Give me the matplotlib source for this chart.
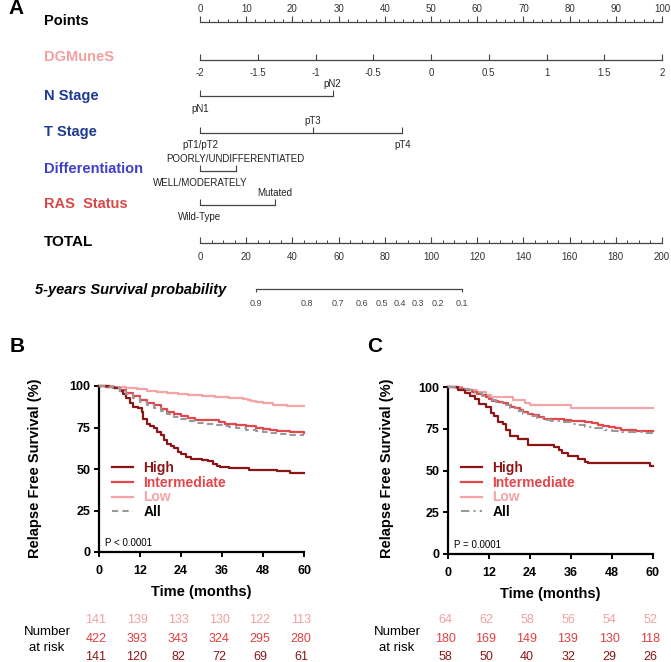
import matplotlib
matplotlib.use("Agg")
import matplotlib.pyplot as plt
import matplotlib.transforms as mtransforms
from matplotlib.lines import Line2D
from matplotlib.ticker import MultipleLocator

plt.rcParams['font.family'] = ['Liberation Sans', 'DejaVu Sans']

# ---------------- data ----------------
# Nomogram
points_range = (0, 100)
dgmunes_range = (-2, 2)
dgmunes_ticks = [-2, -1.5, -1, -0.5, 0, 0.5, 1, 1.5, 2]
total_range = (0, 200)
n_stage_labels = ['pN1', 'pN2']
n_stage_pts = [0, 28.7]
t_stage_labels = ['pT1/pT2', 'pT3', 'pT4']
t_stage_pts = [0, 24.4, 43.8]
diff_labels = ['WELL/MODERATELY', 'POORLY/UNDIFFERENTIATED']
diff_pts = [0, 7.7]
ras_labels = ['Wild-Type', 'Mutated']
ras_pts = [0, 16.2]
surv_probs = [0.9, 0.8, 0.7, 0.6, 0.5, 0.4, 0.3, 0.2, 0.1]
surv_total_pts = [24.2, 46.3, 59.5, 70.0, 78.8, 86.6, 94.4, 103.0, 113.3]

# Panel B (KM)
b_high_t = [0, 3, 4.5, 6, 7, 8, 9, 10, 11.5, 12.5, 13, 14, 15, 16, 17, 18, 19, 20, 21, 22, 23, 24,
            25.5, 27, 30, 32, 33.5, 34.5, 35.5, 38, 42, 44, 50, 52, 56, 60]
b_high_s = [100, 99.3, 98.6, 97.2, 95.0, 93.0, 90.0, 87.2, 86.5, 84.4, 80.1, 77.3, 75.9, 74.5, 72.3,
            70.2, 67.4, 65.2, 63.8, 62.4, 60.3, 58.9, 57.4, 56.0, 55.3, 54.6, 53.2, 51.8, 51.1, 50.9,
            50.4, 49.6, 49.4, 48.6, 47.8, 47.8]
b_int_t = [0, 2, 4, 6, 8, 10, 12, 14, 16, 18, 20, 22, 24, 26, 28, 33, 35, 37, 40, 43, 46, 48, 50,
           52, 56, 60]
b_int_s = [100, 99.5, 98.8, 97.5, 95.8, 93.8, 91.5, 89.8, 88.3, 86.2, 84.6, 83.2, 82.2, 80.8, 79.8,
           79.6, 78.5, 77.3, 76.5, 75.8, 75.0, 74.0, 73.2, 72.6, 72.2, 71.9]
b_low_t = [0, 4, 8, 11, 14, 17, 20, 23, 26, 30, 34, 38, 42, 43.5, 44.5, 46, 48, 51, 55, 60]
b_low_s = [100, 99.3, 98.6, 97.9, 97.2, 96.5, 95.8, 95.1, 94.4, 93.7, 93.3, 93.0, 92.3, 91.6, 90.9,
           90.2, 89.5, 88.8, 88.1, 88.1]
b_all_t = [0, 2, 4, 6, 8, 10, 12, 14, 16, 18, 20, 22, 24, 26, 28, 31, 34, 36, 38, 40, 43, 46, 48,
           50, 53, 56, 60]
b_all_s = [100, 99.4, 98.6, 97.2, 95.2, 92.8, 90.5, 88.5, 86.8, 84.8, 83.0, 81.6, 80.4, 79.0, 77.8,
           77.4, 76.6, 76.0, 75.2, 74.4, 73.6, 72.8, 72.0, 71.4, 71.0, 70.6, 70.4]

# Panel C (KM)
c_high_t = [0, 3, 5, 6.5, 8, 9, 11, 12.5, 13.5, 14.5, 16, 17, 18, 20.5, 23.5, 31, 32.5, 33.5, 35,
            38, 40, 41, 59, 60]
c_high_s = [100, 98.3, 96.6, 94.8, 93.1, 89.7, 87.9, 84.5, 82.8, 79.3, 77.6, 74.1, 70.7, 69.0, 65.5,
            63.8, 62.1, 60.3, 58.6, 56.9, 55.2, 54.5, 52.4, 52.4]
c_int_t = [0, 2.5, 4, 5.5, 7, 8.5, 10, 11, 12, 13, 14.5, 16, 17.5, 18.5, 19.5, 21, 22, 23.5, 25,
           26.5, 28, 34, 36, 40, 42, 44, 45.5, 47, 49, 50.5, 55, 60]
c_int_s = [100, 99.4, 98.9, 98.3, 97.2, 96.1, 95.0, 93.9, 92.8, 91.7, 91.1, 90.5, 89.4, 88.3, 87.2,
           86.1, 85.0, 83.9, 83.3, 82.2, 81.1, 80.5, 79.4, 78.8, 78.2, 77.1, 76.5, 75.9, 75.3, 74.4,
           73.8, 73.8]
c_low_t = [0, 4, 8.5, 11, 12.5, 19, 22.5, 24, 36, 60]
c_low_s = [100, 98.4, 96.9, 95.3, 93.8, 92.2, 90.6, 89.1, 87.5, 87.5]
c_all_t = [0, 2, 4, 6, 8, 10, 12, 14, 16, 18, 20, 22, 24, 26, 28, 30, 33, 36, 38, 40, 43, 46, 48,
           51, 54, 57, 60]
c_all_s = [100, 99.6, 99.0, 98.0, 96.6, 94.8, 92.5, 90.8, 89.3, 87.5, 85.8, 84.0, 82.5, 81.2, 80.3,
           79.8, 79.0, 77.8, 77.0, 76.2, 75.2, 74.4, 73.7, 73.3, 73.0, 72.7, 72.5]

risk_times = [0, 12, 24, 36, 48, 60]
b_risk_low = [141, 139, 133, 130, 122, 113]
b_risk_int = [422, 393, 343, 324, 295, 280]
b_risk_high = [141, 120, 82, 72, 69, 61]
c_risk_low = [64, 62, 58, 56, 54, 52]
c_risk_int = [180, 169, 149, 139, 130, 118]
c_risk_high = [58, 50, 40, 32, 29, 26]

group_labels = ['High', 'Intermediate', 'Low', 'All']

# ---------------- style ----------------
W, H = 671, 662
C_HIGH = '#8c1515'
C_INT = '#e2474c'
C_LOW = '#f4a4a4'
C_ALL = '#999999'
AXC = '#444444'

fig = plt.figure(figsize=(W / 100, H / 100), dpi=100)


def fx(px):
    return px / W


def fy(py):
    return 1 - py / H


X0, X1 = 200, 662  # nomogram scale extent in px
EPS = 1e-4


def row_axes(line_y, xlim, top=False):
    if top:
        ax = fig.add_axes([fx(X0), fy(line_y) - EPS, fx(X1) - fx(X0), EPS])
    else:
        ax = fig.add_axes([fx(X0), fy(line_y), fx(X1) - fx(X0), EPS])
    ax.set_xlim(*xlim)
    ax.set_ylim(0, 1)
    ax.patch.set_visible(False)
    for s in ax.spines.values():
        s.set_visible(False)
    ax.set_yticks([])
    sp = ax.spines['top' if top else 'bottom']
    sp.set_visible(True)
    sp.set_color(AXC)
    sp.set_linewidth(0.9)
    return ax


# Row labels
row_label_specs = [
    ('Points', 21, 'black', 10.5),
    ('DGMuneS', 57, '#f3a0a0', 10.5),
    ('N Stage', 96, '#1f3b8f', 10.5),
    ('T Stage', 132, '#1f3b8f', 10.5),
    ('Differentiation', 169, '#3f3fc8', 10.5),
    ('RAS  Status', 204, '#d84848', 10.5),
    ('TOTAL', 242, 'black', 11),
]
for txt, y, col, fs in row_label_specs:
    fig.text(fx(44), fy(y), txt, color=col, fontsize=fs, fontweight='bold',
             ha='left', va='center')
fig.text(fx(35), fy(290), '5-years Survival probability', fontsize=10.5, fontweight='bold',
         style='italic', ha='left', va='center')
fig.text(fx(8), fy(9), 'A', fontsize=15, fontweight='bold', ha='left', va='center')

# Points
ax = row_axes(21.5, points_range, top=True)
ax.xaxis.set_ticks_position('top')
ax.xaxis.set_major_locator(MultipleLocator(10))
ax.xaxis.set_minor_locator(MultipleLocator(2))
ax.tick_params(axis='x', which='major', direction='out', length=4, width=0.8, color=AXC,
               labelsize=7, labelcolor='#333333', pad=1.5, top=True, bottom=False,
               labeltop=True, labelbottom=False)
ax.tick_params(axis='x', which='minor', direction='out', length=2, width=0.7, color=AXC,
               top=True, bottom=False)

# DGMuneS
ax = row_axes(60, dgmunes_range)
ax.set_xticks(dgmunes_ticks)
ax.set_xticklabels([f'{v:g}' for v in dgmunes_ticks])
ax.tick_params(axis='x', direction='in', length=4, width=0.8, color=AXC, labelsize=7,
               labelcolor='#333333', pad=6)

# Categorical rows
cat_rows = [
    (96, n_stage_pts, n_stage_labels),
    (132.5, t_stage_pts, t_stage_labels),
    (171, diff_pts, diff_labels),
    (205, ras_pts, ras_labels),
]
for line_y, pts, labs in cat_rows:
    ax = row_axes(line_y, points_range)
    ax.spines['bottom'].set_bounds(min(pts), max(pts))
    ax.set_xticks(pts)
    ax.set_xticklabels([])
    ax.tick_params(axis='x', direction='in', length=4, width=0.8, color=AXC)
    for i, (p, lab) in enumerate(zip(pts, labs)):
        above = (i % 2 == 1)
        ax.annotate(lab, xy=(p, 0), xycoords=('data', 'axes fraction'),
                    xytext=(0, 8.5 if above else -9), textcoords='offset points',
                    ha='center', va='center', fontsize=7, color='#222222')

# TOTAL
ax = row_axes(243, total_range)
ax.xaxis.set_major_locator(MultipleLocator(20))
ax.xaxis.set_minor_locator(MultipleLocator(5))
ax.tick_params(axis='x', which='major', direction='in', length=4, width=0.8, color=AXC,
               labelsize=7, labelcolor='#333333', pad=6.5)
ax.tick_params(axis='x', which='minor', direction='in', length=2.2, width=0.7, color=AXC)

# Survival probability
ax = row_axes(289, total_range)
ax.spines['bottom'].set_bounds(min(surv_total_pts), max(surv_total_pts))
ax.set_xticks(surv_total_pts)
ax.set_xticklabels([f'{v:g}' for v in surv_probs])
ax.tick_params(axis='x', direction='out', length=2.5, width=0.8, color=AXC, labelsize=6.5,
               labelcolor='#444444', pad=5)
ticks = ax.xaxis.get_major_ticks()
for tk in ticks[1:-1]:
    tk.tick1line.set_visible(False)


# ---------------- KM panels ----------------
def km_panel(rect_px, curves, pval, letter, letter_xy, ylabel_x, risk, all_style, num_x):
    l, r, t, b = rect_px
    ax = fig.add_axes([fx(l), fy(b), fx(r) - fx(l), fy(t) - fy(b)])
    ax.set_xlim(0, 60)
    ax.set_ylim(0, 100)
    (ht, hs), (it, is_), (lt, ls), (at, as_) = curves
    ax.step(lt, ls, where='post', color=C_LOW, lw=1.6, clip_on=False, zorder=3)
    ax.step(it, is_, where='post', color=C_INT, lw=1.6, clip_on=False, zorder=4)
    ax.step(at, as_, where='post', color=C_ALL, lw=1.5, linestyle=all_style, clip_on=False,
            zorder=5)
    ax.step(ht, hs, where='post', color=C_HIGH, lw=1.6, clip_on=False, zorder=4)
    for s in ['top', 'right']:
        ax.spines[s].set_visible(False)
    for s in ['left', 'bottom']:
        ax.spines[s].set_linewidth(1.6)
    ax.set_xticks(risk_times)
    ax.set_yticks([0, 25, 50, 75, 100])
    ax.tick_params(axis='both', direction='out', length=3.5, width=1.4, labelsize=9)
    ax.tick_params(axis='x', pad=5.5)
    ax.tick_params(axis='y', pad=2.5)
    for tl in ax.get_xticklabels() + ax.get_yticklabels():
        tl.set_fontweight('bold')
    ax.set_xlabel('Time (months)', fontsize=10.5, fontweight='bold', labelpad=6)
    fig.text(fx(ylabel_x), fy(468), 'Relapse Free Survival (%)', rotation=90, fontsize=10.5,
             fontweight='bold', ha='center', va='center')
    handles = [Line2D([], [], color=C_HIGH, lw=1.6), Line2D([], [], color=C_INT, lw=1.6),
               Line2D([], [], color=C_LOW, lw=1.6),
               Line2D([], [], color=C_ALL, lw=1.5, linestyle=all_style)]
    ax.legend(handles, group_labels, loc='upper left',
              bbox_to_anchor=(13 / (r - l), (b - 461) / (b - t)),
              frameon=False, borderpad=0, borderaxespad=0, handlelength=1.5,
              handletextpad=0.75, labelspacing=0.05,
              prop={'weight': 'bold', 'size': 10},
              labelcolor=[C_HIGH, C_INT, C_LOW, 'black'])
    ax.text(0.03, 0.055, pval, transform=ax.transAxes, fontsize=7, ha='left', va='center')
    fig.text(fx(letter_xy[0]), fy(letter_xy[1]), letter, fontsize=15, fontweight='bold',
             ha='center', va='center')
    # number at risk
    trans = mtransforms.blended_transform_factory(ax.transData, fig.transFigure)
    trans = mtransforms.offset_copy(trans, fig=fig, x=-3, y=0, units='dots')
    low, mid, high = risk
    for vals, col, yy in [(low, '#f0a0a0', 620), (mid, '#e04040', 639), (high, C_HIGH, 657)]:
        for tm, v in zip(risk_times, vals):
            fig.text(tm, fy(yy), str(v), transform=trans, ha='center', va='center',
                     fontsize=9, color=col)
    fig.text(fx(num_x), fy(632), 'Number', ha='center', va='center', fontsize=9.5)
    fig.text(fx(num_x), fy(648), 'at risk', ha='center', va='center', fontsize=9.5)
    return ax


km_panel((99, 304, 386, 552),
         [(b_high_t, b_high_s), (b_int_t, b_int_s), (b_low_t, b_low_s), (b_all_t, b_all_s)],
         'P < 0.0001', 'B', (17, 347), 35, (b_risk_low, b_risk_int, b_risk_high), (0, (3, 2)), 47)
km_panel((448, 653, 387, 554),
         [(c_high_t, c_high_s), (c_int_t, c_int_s), (c_low_t, c_low_s), (c_all_t, c_all_s)],
         'P = 0.0001', 'C', (375, 347), 387, (c_risk_low, c_risk_int, c_risk_high),
         (0, (4, 2, 1, 2)), 397)

fig.savefig('out.png', dpi=100)
